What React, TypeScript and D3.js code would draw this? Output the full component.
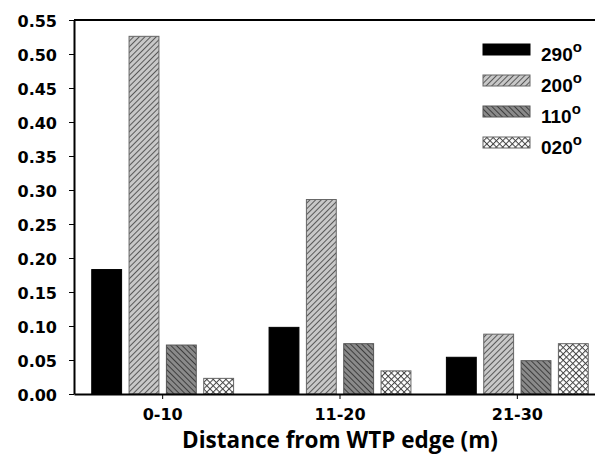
import { useEffect, useRef } from 'react'
import * as d3 from 'd3'

const categories = ['0-10', '11-20', '21-30']
const seriesNames = ['290', '200', '110', '020']
const values290 = [0.183, 0.098, 0.054]
const values200 = [0.526, 0.286, 0.088]
const values110 = [0.072, 0.074, 0.049]
const values020 = [0.023, 0.034, 0.074]
const yTicks = [0, 0.05, 0.1, 0.15, 0.2, 0.25, 0.3, 0.35, 0.4, 0.45, 0.5, 0.55]

const seriesValues = [values290, values200, values110, values020]
const fills = ['#000', 'url(#hatch200)', 'url(#hatch110)', 'url(#hatch020)']
const strokes = ['#000', '#666', '#555', '#666']

const width = 595
const height = 455
const margin = { top: 20, right: -11, bottom: 61, left: 74 }

const App = () => {
  const xAxisRef = useRef<SVGGElement>(null)
  const yAxisRef = useRef<SVGGElement>(null)

  const xScale = d3
    .scaleBand()
    .domain(categories)
    .range([margin.left, width - margin.right])
    .paddingInner(0.2)
    .paddingOuter(0.1)

  const inner = d3
    .scaleBand()
    .domain(seriesNames)
    .range([0, xScale.bandwidth()])
    .paddingInner(0.2)

  const yScale = d3
    .scaleLinear()
    .domain([0, 0.55])
    .range([height - margin.bottom, margin.top])

  const bars = categories.flatMap((c, i) =>
    seriesNames.map((s, j) => ({
      x: (xScale(c) as number) + (inner(s) as number),
      y: yScale(seriesValues[j][i]),
      h: yScale(0) - yScale(seriesValues[j][i]),
      fill: fills[j],
      stroke: strokes[j],
    }))
  )

  useEffect(() => {
    const xAxis = d3.axisBottom(xScale).tickSize(5).tickSizeOuter(0).tickPadding(10)
    const yAxis = d3
      .axisLeft(yScale)
      .tickValues(yTicks)
      .tickFormat(d3.format('.2f'))
      .tickSize(5)
      .tickSizeOuter(0)
      .tickPadding(12)

    if (xAxisRef.current) {
      const g = d3.select(xAxisRef.current).call(xAxis)
      g.select('.domain').attr('stroke-width', 2)
      g.selectAll('.tick line').attr('stroke-width', 1)
      g.selectAll('.tick text')
        .attr('font-family', '"DejaVu Sans", sans-serif')
        .attr('font-weight', 'bold')
        .attr('font-size', 16)
        .attr('fill', '#000')
    }
    if (yAxisRef.current) {
      const g = d3.select(yAxisRef.current).call(yAxis)
      g.select('.domain').attr('stroke-width', 2)
      g.selectAll('.tick line').attr('stroke-width', 1)
      g.selectAll('.tick text')
        .attr('font-family', '"DejaVu Sans", sans-serif')
        .attr('font-weight', 'bold')
        .attr('font-size', 16)
        .attr('dy', '0.4em')
        .attr('fill', '#000')
    }
  }, [])

  const legendY = [61, 92, 123, 154]

  return (
    <svg
      width={width}
      height={height}
      style={{ position: 'absolute', left: 0, top: 0, background: '#fff' }}
    >
      <defs>
        <pattern id="hatch200" width={4} height={4} patternUnits="userSpaceOnUse" patternTransform="rotate(45)">
          <rect width={4} height={4} fill="#c8c8c8" />
          <line x1={0} y1={0} x2={0} y2={4} stroke="#333" strokeWidth={1.5} />
        </pattern>
        <pattern id="hatch110" width={4} height={4} patternUnits="userSpaceOnUse" patternTransform="rotate(-45)">
          <rect width={4} height={4} fill="#8a8a8a" />
          <line x1={0} y1={0} x2={0} y2={4} stroke="#2a2a2a" strokeWidth={1.6} />
        </pattern>
        <pattern id="hatch020" width={4.5} height={4.5} patternUnits="userSpaceOnUse" patternTransform="rotate(45)">
          <rect width={4.5} height={4.5} fill="#fff" />
          <line x1={0} y1={0} x2={0} y2={4.5} stroke="#444" strokeWidth={2} />
          <line x1={0} y1={0} x2={4.5} y2={0} stroke="#444" strokeWidth={2} />
        </pattern>
      </defs>

      {bars.map((b, i) => (
        <rect
          key={i}
          x={b.x}
          y={b.y}
          width={inner.bandwidth()}
          height={b.h}
          fill={b.fill}
          stroke={b.stroke}
          strokeWidth={1}
        />
      ))}

      <line
        x1={margin.left}
        x2={width - margin.right}
        y1={margin.top}
        y2={margin.top}
        stroke="#000"
        strokeWidth={2}
      />
      <g ref={xAxisRef} transform={`translate(0, ${height - margin.bottom})`} />
      <g ref={yAxisRef} transform={`translate(${margin.left}, 0)`} />

      <text
        x={(margin.left + width - margin.right) / 2}
        y={448}
        textAnchor="middle"
        fontFamily='"Open Sans", sans-serif'
        fontWeight="bold"
        fontSize={22.5}
      >
        Distance from WTP edge (m)
      </text>

      {seriesNames.map((s, i) => (
        <g key={s}>
          <rect
            x={483}
            y={legendY[i] - 17}
            width={47}
            height={11}
            fill={fills[i]}
            stroke={strokes[i]}
            strokeWidth={1}
          />
          <text
            x={541}
            y={legendY[i]}
            fontFamily='"Liberation Sans", Arial, sans-serif'
            fontWeight="bold"
            fontSize={19}
          >
            {s}
            <tspan fontSize={15} dy={-9}>
              o
            </tspan>
          </text>
        </g>
      ))}
    </svg>
  )
}

export default App
